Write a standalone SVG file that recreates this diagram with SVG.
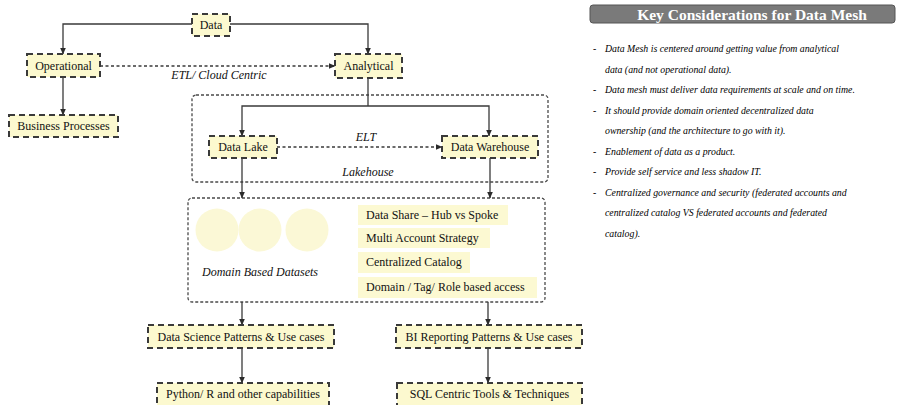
<svg xmlns="http://www.w3.org/2000/svg" width="919" height="405" viewBox="0 0 919 405">
  <defs>
    <marker id="arrow" markerWidth="7" markerHeight="6" refX="6.5" refY="3" orient="auto" markerUnits="userSpaceOnUse">
      <path d="M0,0 L7,3 L0,6 Z" fill="#2b2b2b"/>
    </marker>
    <style>
      .node rect { fill: #fcf9cf; stroke: #3a3a3a; stroke-width: 2; stroke-dasharray: 6 4; }
      .node text { font-family: "Liberation Serif", "Times New Roman", serif; font-size: 12px; fill: #111111; text-anchor: middle; }
      .group-box { fill: none; stroke: #4a4a4a; stroke-width: 1.3; stroke-dasharray: 3 2; }
      .link { fill: none; stroke: #3a3a3a; stroke-width: 1.3; marker-end: url(#arrow); }
      .link.plain { marker-end: none; }
      .link.dashed { stroke-dasharray: 3 2.5; }
      .label { font-family: "Liberation Serif", "Times New Roman", serif; font-size: 12px; font-style: italic; fill: #111111; text-anchor: middle; }
      .tag rect { fill: #fcf9d2; }
      .tag text { font-family: "Liberation Serif", "Times New Roman", serif; font-size: 12px; fill: #111111; }
      .dataset { fill: #fbf8d6; }
      .notes text { font-family: "Liberation Serif", "Times New Roman", serif; font-size: 9.8px; font-style: italic; fill: #000000; }
      .notes .dash { font-style: normal; }
    </style>
  </defs>

  <rect width="919" height="405" fill="#ffffff"/>

  <!-- container outlines -->
  <g id="lakehouse">
    <rect class="group-box" x="192" y="95" width="356" height="87" rx="4"/>
    <text class="label" x="368" y="176">Lakehouse</text>
  </g>
  <g id="domain-datasets">
    <rect class="group-box" x="188" y="198" width="357" height="104" rx="4"/>
    <circle class="dataset" cx="217" cy="230" r="21.5"/>
    <circle class="dataset" cx="260" cy="230" r="21.5"/>
    <circle class="dataset" cx="307" cy="230" r="21.5"/>
    <text class="label" x="260" y="276">Domain Based Datasets</text>
    <g class="tag">
      <rect x="358" y="205" width="150" height="20"/>
      <text x="366" y="219">Data Share – Hub vs Spoke</text>
    </g>
    <g class="tag">
      <rect x="358" y="228" width="132" height="20"/>
      <text x="366" y="242">Multi Account Strategy</text>
    </g>
    <g class="tag">
      <rect x="358" y="252" width="112" height="21"/>
      <text x="366" y="266">Centralized Catalog</text>
    </g>
    <g class="tag">
      <rect x="358" y="277" width="179" height="21"/>
      <text x="366" y="291">Domain / Tag/ Role based access</text>
    </g>
  </g>

  <!-- connectors -->
  <g id="connectors">
    <path class="link" d="M192,24 H63 V54"/>
    <path class="link" d="M230,24 H368 V54"/>
    <path class="link" d="M63,77 V115"/>
    <path class="link dashed" d="M100,66 H335"/>
    <path class="link plain" d="M368,78 V106"/>
    <path class="link" d="M368,106 H242 V136"/>
    <path class="link" d="M368,106 H489 V136"/>
    <path class="link dashed" d="M277,147 H442"/>
    <path class="link" d="M242,158 V198"/>
    <path class="link" d="M490,158 V198"/>
    <path class="link" d="M242,302 V325"/>
    <path class="link" d="M488,302 V325"/>
    <path class="link" d="M242,348 V383"/>
    <path class="link" d="M488,348 V383"/>
    <text class="label" x="219" y="79">ETL/ Cloud Centric</text>
    <text class="label" x="366" y="141">ELT</text>
  </g>

  <!-- nodes -->
  <g id="data" class="node">
    <rect x="192" y="14" width="38" height="22"/>
    <text x="211" y="29">Data</text>
  </g>
  <g id="operational" class="node">
    <rect x="27" y="54" width="73" height="23"/>
    <text x="63.5" y="69.5">Operational</text>
  </g>
  <g id="analytical" class="node">
    <rect x="335" y="54" width="67" height="24"/>
    <text x="368.5" y="70">Analytical</text>
  </g>
  <g id="business-processes" class="node">
    <rect x="9" y="115" width="109" height="22"/>
    <text x="63.5" y="130">Business Processes</text>
  </g>
  <g id="data-lake" class="node">
    <rect x="209" y="136" width="68" height="22"/>
    <text x="243" y="151">Data Lake</text>
  </g>
  <g id="data-warehouse" class="node">
    <rect x="442" y="136" width="96" height="22"/>
    <text x="490" y="151">Data Warehouse</text>
  </g>
  <g id="data-science" class="node">
    <rect x="148" y="325" width="186" height="23"/>
    <text x="241" y="340.5">Data Science Patterns &amp; Use cases</text>
  </g>
  <g id="bi-reporting" class="node">
    <rect x="396" y="325" width="186" height="23"/>
    <text x="489" y="340.5">BI Reporting Patterns &amp; Use cases</text>
  </g>
  <g id="python-r" class="node">
    <rect x="157" y="383" width="172" height="23"/>
    <text x="243" y="398">Python/ R and other capabilities</text>
  </g>
  <g id="sql-tools" class="node">
    <rect x="397" y="383" width="185" height="23"/>
    <text x="489.5" y="398">SQL Centric Tools &amp; Techniques</text>
  </g>

  <!-- key considerations panel -->
  <g id="key-considerations">
    <rect x="590" y="5" width="305" height="18" rx="3" fill="#7a7a7a" stroke="#555555" stroke-width="1"/>
    <text x="752" y="19.5" font-family="'Liberation Serif', 'Times New Roman', serif" font-size="15.5" font-weight="bold" fill="#ffffff" text-anchor="middle">Key Considerations for Data Mesh</text>
    <g class="notes">
      <text class="dash" x="593" y="52">-</text>
      <text x="605" y="52">Data Mesh is centered around getting value from analytical</text>
      <text x="605" y="72.5">data (and not operational data).</text>
      <text class="dash" x="593" y="93">-</text>
      <text x="605" y="93">Data mesh must deliver data requirements at scale and on time.</text>
      <text class="dash" x="593" y="113.5">-</text>
      <text x="605" y="113.5">It should provide domain oriented decentralized data</text>
      <text x="605" y="134">ownership (and the architecture to go with it).</text>
      <text class="dash" x="593" y="154.5">-</text>
      <text x="605" y="154.5">Enablement of data as a product.</text>
      <text class="dash" x="593" y="175">-</text>
      <text x="605" y="175">Provide self service and less shadow IT.</text>
      <text class="dash" x="593" y="195.5">-</text>
      <text x="605" y="195.5">Centralized governance and security (federated accounts and</text>
      <text x="605" y="216">centralized catalog VS federated accounts and federated</text>
      <text x="605" y="236.5">catalog).</text>
    </g>
  </g>
</svg>
